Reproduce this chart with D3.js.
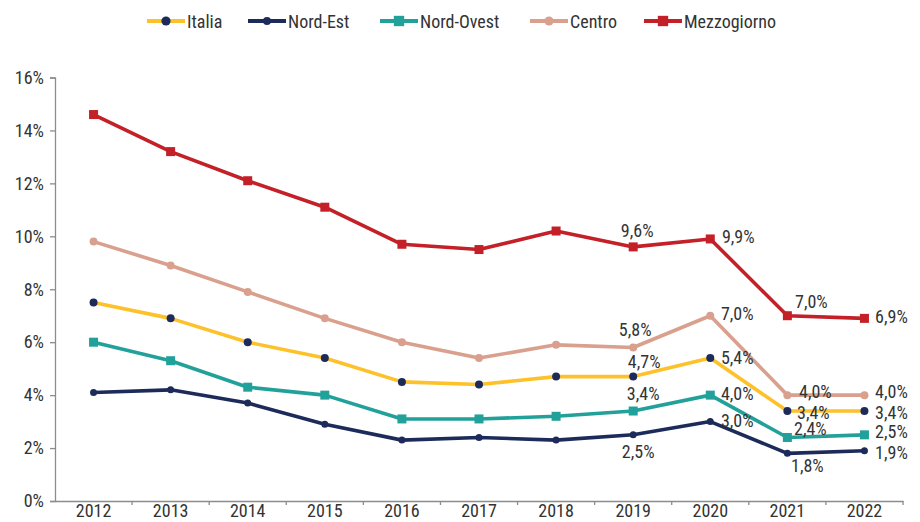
<!DOCTYPE html>
<html>
<head>
<meta charset="utf-8">
<script src="https://cdn.jsdelivr.net/npm/d3@7"></script>
<style>
  html, body { margin: 0; padding: 0; background: #fff; }
  svg { display: block; }
  text { font-family: "Roboto Condensed", "Liberation Sans Narrow", "DejaVu Sans Condensed", Roboto, sans-serif; fill: #333; }
</style>
</head>
<body>
<svg id="chart" width="920" height="522"></svg>
<script>
// ---- Data ----
const years = ["2012","2013","2014","2015","2016","2017","2018","2019","2020","2021","2022"];
const yTicks = [0, 2, 4, 6, 8, 10, 12, 14, 16];
const seriesNames = ["Italia", "Nord-Est", "Nord-Ovest", "Centro", "Mezzogiorno"];
const italia      = [7.5, 6.9, 6.0, 5.4, 4.5, 4.4, 4.7, 4.7, 5.4, 3.4, 3.4];
const nordEst     = [4.1, 4.2, 3.7, 2.9, 2.3, 2.4, 2.3, 2.5, 3.0, 1.8, 1.9];
const nordOvest   = [6.0, 5.3, 4.3, 4.0, 3.1, 3.1, 3.2, 3.4, 4.0, 2.4, 2.5];
const centro      = [9.8, 8.9, 7.9, 6.9, 6.0, 5.4, 5.9, 5.8, 7.0, 4.0, 4.0];
const mezzogiorno = [14.6, 13.2, 12.1, 11.1, 9.7, 9.5, 10.2, 9.6, 9.9, 7.0, 6.9];
const labelledYears = ["2019","2020","2021","2022"];

// ---- Styles (not data) ----
const styles = {
  "Italia":      { line: "#FDC12A", marker: "circle", mfill: "#1C2B5A", r: 4 },
  "Nord-Est":    { line: "#1C2B5A", marker: "circle", mfill: "#1C2B5A", r: 3.5 },
  "Nord-Ovest":  { line: "#22A19A", marker: "square", mfill: "#22A19A", s: 9 },
  "Centro":      { line: "#D9A08E", marker: "circle", mfill: "#D9A08E", r: 4 },
  "Mezzogiorno": { line: "#C32028", marker: "square", mfill: "#C32028", s: 9 }
};
// label offsets (dx, dy of text centre) for 2019..2022
const labelOffsets = {
  "Mezzogiorno": [[4,-16],[28,-2],[24,-14],[27,-2]],
  "Centro":      [[2,-18],[27,-2],[28,-4],[27,-4]],
  "Italia":      [[11,-15],[27,-1],[26,1],[27,1]],
  "Nord-Ovest":  [[10,-18],[27,-2],[23,-9],[27,-3]],
  "Nord-Est":    [[5,17],[27,-1],[20,12],[27,2]]
};

const values = {
  "Italia": italia, "Nord-Est": nordEst, "Nord-Ovest": nordOvest,
  "Centro": centro, "Mezzogiorno": mezzogiorno
};

const FS = "18px";
const svg = d3.select("#chart");
const mLeft = 55, mRight = 903, mTop = 77.5, mBottom = 501;

const x = d3.scaleBand().domain(years).range([mLeft, mRight]).paddingInner(0).paddingOuter(0);
const xc = d => x(d) + x.bandwidth() / 2;
const y = d3.scaleLinear().domain([0, 16]).range([mBottom, mTop]);

// Y axis
const yAxis = d3.axisLeft(y).tickValues(yTicks).tickSize(5).tickPadding(6)
  .tickFormat(d => d + "%");
const gy = svg.append("g").attr("transform", `translate(${mLeft},0)`).call(yAxis);
gy.select(".domain").attr("stroke", "#8c8c8c").attr("stroke-width", 1.3);
gy.selectAll(".tick line").attr("stroke", "#8c8c8c").attr("stroke-width", 1.3);
gy.selectAll(".tick text").style("font-size", FS).attr("fill", "#333");

// X axis
const xAxis = d3.axisBottom(x).tickSize(0).tickPadding(3);
const gx = svg.append("g").attr("transform", `translate(0,${mBottom})`).call(xAxis);
gx.select(".domain").attr("stroke", "#8c8c8c").attr("stroke-width", 1.3);
gx.selectAll(".tick text").style("font-size", FS).attr("fill", "#333");
// boundary ticks between categories
const bounds = years.slice(1).map(d => x(d)).concat([mRight]);
gx.selectAll(".bound").data(bounds).enter().append("line")
  .attr("x1", d => d).attr("x2", d => d)
  .attr("y1", 0).attr("y2", 4)
  .attr("stroke", "#8c8c8c").attr("stroke-width", 1.3);

const line = d3.line().x((d, i) => xc(years[i])).y(d => y(d));

function drawMarker(g, name, cx, cy, scale) {
  const st = styles[name];
  scale = scale || 1;
  if (st.marker === "circle") {
    g.append("circle").attr("cx", cx).attr("cy", cy).attr("r", st.r * scale).attr("fill", st.mfill);
  } else {
    const s = st.s * scale;
    g.append("rect").attr("x", cx - s/2).attr("y", cy - s/2).attr("width", s).attr("height", s).attr("fill", st.mfill);
  }
}

seriesNames.forEach(name => {
  const st = styles[name];
  const g = svg.append("g");
  g.append("path").datum(values[name]).attr("d", line)
    .attr("fill", "none").attr("stroke", st.line).attr("stroke-width", 3.6)
    .attr("stroke-linejoin", "round");
  values[name].forEach((v, i) => drawMarker(g, name, xc(years[i]), y(v)));
});

// data labels
seriesNames.forEach(name => {
  labelledYears.forEach((yr, k) => {
    const i = years.indexOf(yr);
    const v = values[name][i];
    const off = labelOffsets[name][k];
    svg.append("text")
      .attr("x", xc(yr) + off[0]).attr("y", y(v) + off[1])
      .attr("text-anchor", "middle").attr("dominant-baseline", "central")
      .style("font-size", FS)
      .text(v.toFixed(1).replace(".", ",") + "%");
  });
});

// legend
const legendX = { "Italia": 147, "Nord-Est": 248, "Nord-Ovest": 380, "Centro": 530, "Mezzogiorno": 644 };
const legY = 21;
seriesNames.forEach(name => {
  const st = styles[name];
  const lx = legendX[name];
  const g = svg.append("g");
  g.append("line").attr("x1", lx).attr("x2", lx + 38).attr("y1", legY).attr("y2", legY)
    .attr("stroke", st.line).attr("stroke-width", 4);
  drawMarker(g, name, lx + 19, legY, 1.15);
  g.append("text").attr("x", lx + 40).attr("y", legY).attr("dominant-baseline", "central")
    .style("font-size", FS).text(name);
});
</script>
</body>
</html>
